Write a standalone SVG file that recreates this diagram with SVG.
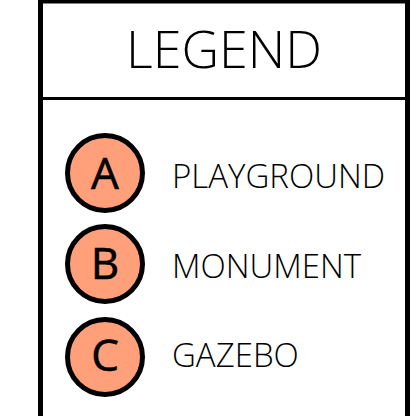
<svg xmlns="http://www.w3.org/2000/svg" width="416" height="416" viewBox="0 0 416 416">
<style>
.frame{fill:#fff;stroke:#000;stroke-width:5}
.div{stroke:#000;stroke-width:3}
.title{font-family:"Open Sans","Liberation Sans",sans-serif;font-weight:300;font-size:52px;fill:#000}
.mark{fill:#FFA07A;stroke:#000;stroke-width:5}
.letter{font-family:"Open Sans","Liberation Sans",sans-serif;font-size:44px;fill:#000;stroke:#000;stroke-width:0.6}
.label{font-family:"Open Sans","Liberation Sans",sans-serif;font-weight:300;font-size:33px;fill:#000}
</style>
<rect width="416" height="416" fill="#fff"/>
<g id="legend">
<rect class="frame" x="40.5" y="1" width="367" height="430"/>
<line class="div" x1="40" y1="98.5" x2="408" y2="98.5"/>
<text class="title" x="224" y="68" text-anchor="middle">LEGEND</text>
</g>
<g id="item-a">
<circle class="mark" cx="105" cy="173" r="37.5"/>
<text class="letter" x="105" y="189" text-anchor="middle">A</text>
<text class="label" x="172" y="188">PLAYGROUND</text>
</g>
<g id="item-b">
<circle class="mark" cx="105" cy="264" r="37.5"/>
<text class="letter" x="105" y="279" text-anchor="middle">B</text>
<text class="label" x="172" y="278">MONUMENT</text>
</g>
<g id="item-c">
<circle class="mark" cx="105" cy="357" r="37.5"/>
<text class="letter" x="105" y="371" text-anchor="middle">C</text>
<text class="label" x="172" y="367">GAZEBO</text>
</g>
<g id="connectors"></g>
</svg>
